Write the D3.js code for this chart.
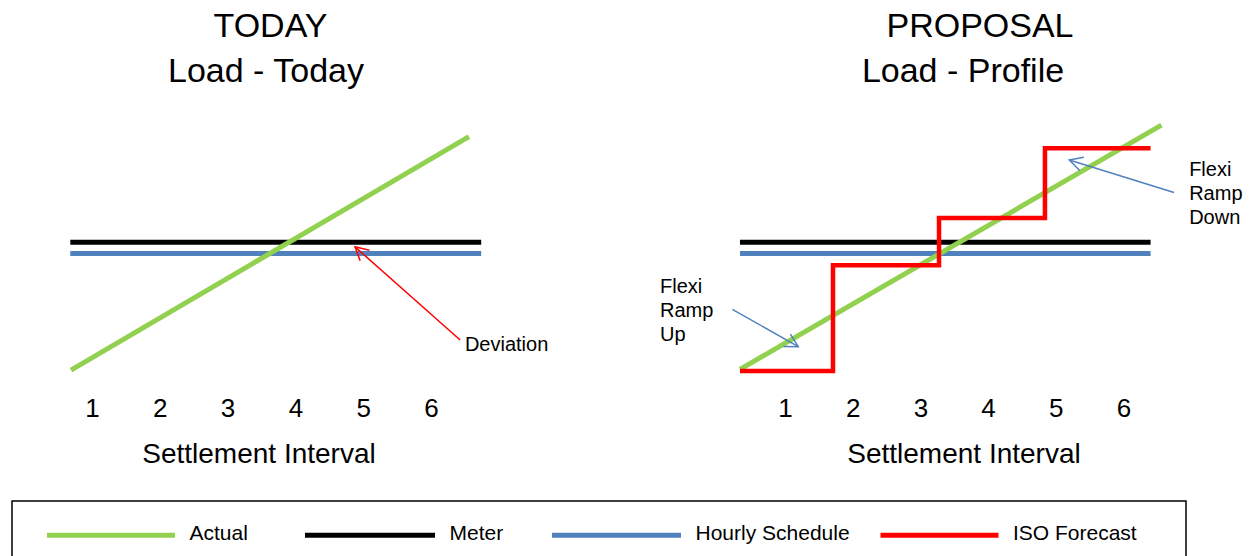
<!DOCTYPE html>
<html>
<head>
<meta charset="utf-8">
<script src="https://cdn.jsdelivr.net/npm/d3@7"></script>
<style>
  html, body { margin: 0; padding: 0; background: #fff; }
  svg { display: block; font-family: "Liberation Sans", Arial, sans-serif; }
</style>
</head>
<body>
<svg id="chart" width="1249" height="556"></svg>
<script>
// ---- data ----
const intervals = [1, 2, 3, 4, 5, 6];
const axisTitle = "Settlement Interval";

const meterLevel = 53.0;        // load units
const scheduleLevel = 48.7;

// Today panel
const todaySpan = [0.68, 6.74];                       // extent of flat lines (interval units)
const todayActualX = [0.69, 6.56];
const todayActualY = [3.8, 93.6];

// Proposal panel
const profileSpan = [0.335, 6.40];
const profileActualX = [0.335, 6.56];
const profileActualY = [4.1, 98.0];
const isoForecastX = [0.335, 1.709, 3.275, 4.84, 6.40];
const isoForecastY = [3.5, 44.1, 62.3, 89.1, 89.1];

// Annotations: [tailX, tailY, headX, headY] in interval / load units
const deviationArrow = [6.43, 15.4, 4.88, 51.2];
const deviationLabel = { x: 6.50, y: 11.0, lines: ["Deviation"] };
const rampUpArrow = [0.222, 27.2, 1.196, 12.8];
const rampUpLabel = { x: -0.846, y: 33.3, lines: ["Flexi", "Ramp", "Up"] };
const rampDownArrow = [6.746, 72.1, 5.20, 84.6];
const rampDownLabel = { x: 6.97, y: 78.6, lines: ["Flexi", "Ramp", "Down"] };

const seriesNames = ["Actual", "Meter", "Hourly Schedule", "ISO Forecast"];
const seriesColors = ["#92D050", "#000000", "#4F81BD", "#FF0000"];

// ---- setup ----
const svg = d3.select("#chart");
const color = d3.scaleOrdinal().domain(seriesNames).range(seriesColors);
const y = d3.scaleLinear().domain([0, 100]).range([380, 120]);

const panels = [
  { title: ["TODAY", "Load - Today"], titleX: [270.5, 266], range: [92, 431], axisCenter: 259 },
  { title: ["PROPOSAL", "Load - Profile"], titleX: [980, 963], range: [785, 1123.5], axisCenter: 964 }
];
panels.forEach(p => { p.x = d3.scaleLinear().domain([1, 6]).range(p.range); });

// arrow markers
const defs = svg.append("defs");
[["arrowRed", "#FF0000"], ["arrowBlue", "#4F81BD"]].forEach(([id, c]) => {
  defs.append("marker")
    .attr("id", id)
    .attr("viewBox", "-16 -10 20 20")
    .attr("markerWidth", 20).attr("markerHeight", 20)
    .attr("markerUnits", "userSpaceOnUse")
    .attr("refX", 0).attr("refY", 0)
    .attr("orient", "auto")
    .append("path")
    .attr("d", "M-13,-7L0,0L-13,7")
    .attr("fill", "none")
    .attr("stroke", c)
    .attr("stroke-width", 1.5);
});

const line = (xs) => d3.line().x(d => xs(d[0])).y(d => y(d[1]));

function drawPanel(p, span, actualX, actualY, forecast) {
  const g = svg.append("g");
  // titles
  g.selectAll("text.title").data(p.title).join("text")
    .attr("class", "title")
    .attr("x", (d, i) => p.titleX[i])
    .attr("y", (d, i) => [37.3, 82.3][i])
    .attr("text-anchor", "middle")
    .attr("font-size", 34)
    .text(d => d);

  // meter and schedule
  [["Meter", meterLevel], ["Hourly Schedule", scheduleLevel]].forEach(([name, lvl]) => {
    g.append("path")
      .attr("d", line(p.x)([[span[0], lvl], [span[1], lvl]]))
      .attr("stroke", color(name)).attr("stroke-width", 5).attr("fill", "none");
  });

  // actual
  g.append("path")
    .attr("d", line(p.x)(actualX.map((v, i) => [v, actualY[i]])))
    .attr("stroke", color("Actual")).attr("stroke-width", 5).attr("fill", "none");

  // forecast steps
  if (forecast) {
    g.append("path")
      .attr("d", line(p.x).curve(d3.curveStepAfter)(forecast[0].map((v, i) => [v, forecast[1][i]])))
      .attr("stroke", color("ISO Forecast")).attr("stroke-width", 4.5)
      .attr("fill", "none").attr("stroke-linejoin", "miter");
  }

  // axis
  const axis = d3.axisBottom(p.x).tickValues(intervals).tickSize(0).tickFormat(d3.format("d"));
  const ag = g.append("g").attr("transform", "translate(0,417.3)").call(axis);
  ag.select(".domain").remove();
  ag.selectAll("text")
    .attr("y", 0).attr("dy", 0)
    .attr("font-size", 26)
    .attr("font-family", "Liberation Sans, Arial, sans-serif")
    .attr("fill", "#000");

  g.append("text")
    .attr("x", p.axisCenter).attr("y", 463.3)
    .attr("text-anchor", "middle")
    .attr("font-size", 28)
    .text(axisTitle);
  return g;
}

function annotate(g, xs, arrow, label, stroke, marker) {
  g.append("line")
    .attr("x1", xs(arrow[0])).attr("y1", y(arrow[1]))
    .attr("x2", xs(arrow[2])).attr("y2", y(arrow[3]))
    .attr("stroke", stroke).attr("stroke-width", 1.5)
    .attr("marker-end", `url(#${marker})`);
  g.append("text")
    .attr("x", xs(label.x)).attr("y", y(label.y))
    .attr("font-size", 20)
    .selectAll("tspan").data(label.lines).join("tspan")
    .attr("x", xs(label.x))
    .attr("dy", (d, i) => i === 0 ? 0 : 24)
    .text(d => d);
}

const g1 = drawPanel(panels[0], todaySpan, todayActualX, todayActualY, null);
annotate(g1, panels[0].x, deviationArrow, deviationLabel, "#FF0000", "arrowRed");

const g2 = drawPanel(panels[1], profileSpan, profileActualX, profileActualY, [isoForecastX, isoForecastY]);
annotate(g2, panels[1].x, rampUpArrow, rampUpLabel, "#4F81BD", "arrowBlue");
annotate(g2, panels[1].x, rampDownArrow, rampDownLabel, "#4F81BD", "arrowBlue");

// ---- legend ----
const legendLayout = [[47, 175], [305, 435], [552, 681], [880.5, 998.5]];
const lg = svg.append("g");
lg.append("rect")
  .attr("x", 12).attr("y", 501).attr("width", 1174).attr("height", 80)
  .attr("fill", "none").attr("stroke", "#000").attr("stroke-width", 1.5);
const items = lg.selectAll("g.item").data(seriesNames).join("g").attr("class", "item");
items.append("line")
  .attr("x1", (d, i) => legendLayout[i][0]).attr("x2", (d, i) => legendLayout[i][1])
  .attr("y1", 535.3).attr("y2", 535.3)
  .attr("stroke", d => color(d)).attr("stroke-width", 5);
items.append("text")
  .attr("x", (d, i) => legendLayout[i][1] + 14.5)
  .attr("y", 540)
  .attr("font-size", 21)
  .text(d => d);
</script>
</body>
</html>
